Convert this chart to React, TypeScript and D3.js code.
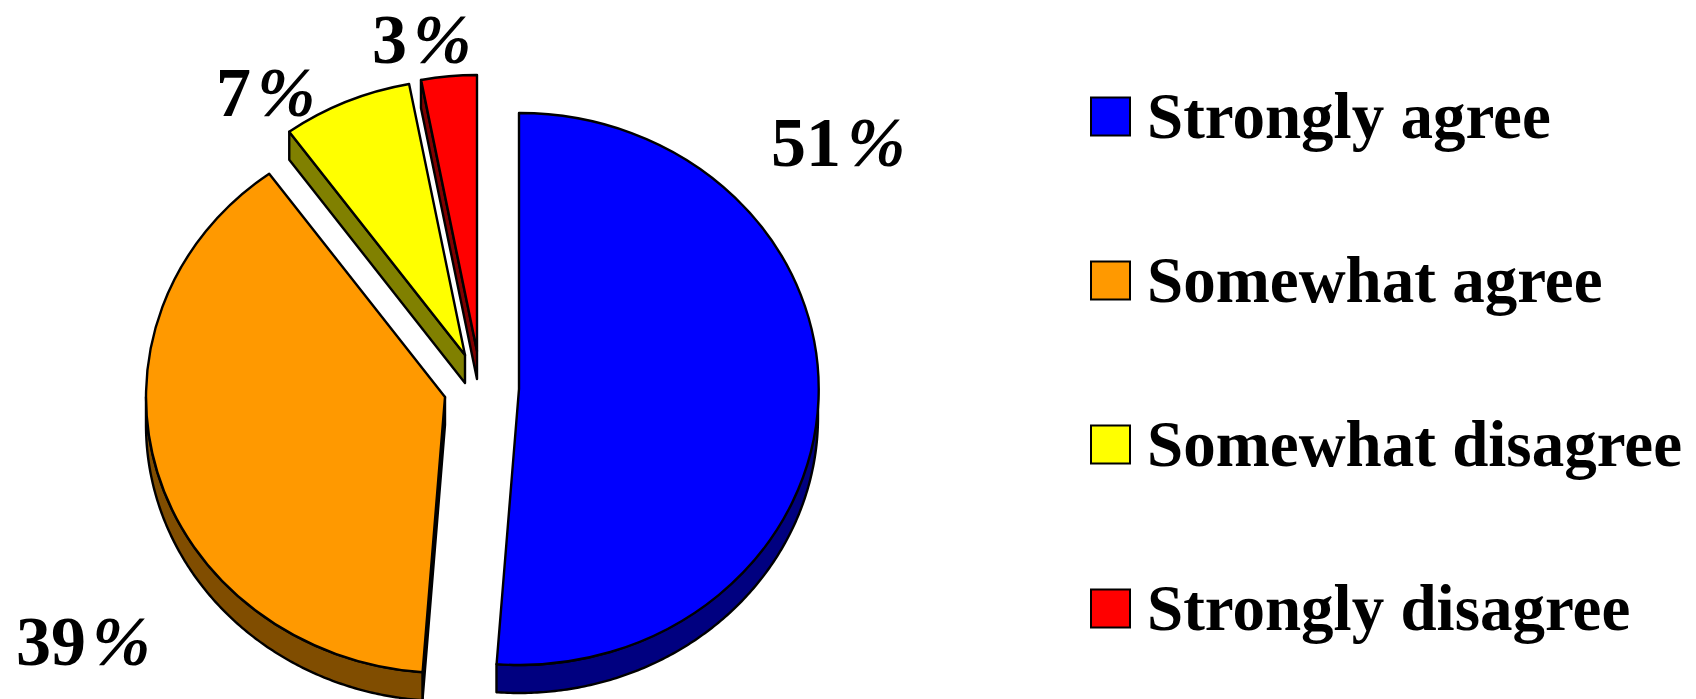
import React from 'react';
import * as d3 from 'd3';

const categories = ['Strongly agree', 'Somewhat agree', 'Somewhat disagree', 'Strongly disagree'];
const shares = [51.2, 38.8, 7, 3];
const shareLabels = ['51', '39', '7', '3'];
const faceColors = ['#0000ff', '#ff9900', '#ffff00', '#ff0000'];
const wallColors = ['#000080', '#804d00', '#808000', '#800000'];

// Layout
const WIDTH = 1696;
const HEIGHT = 699;
const RX = 299;
const RY = 276;
const DEPTH = 28;
const apexes = [[519, 389], [445, 397], [465, 355], [477, 351]];
const labelPos = [[771, 166], [16, 665], [216, 116], [372, 63]];
const FONT = '"Liberation Serif", "Times New Roman", serif';

const pie = d3.pie<number>().sort(null).startAngle(0).endAngle(2 * Math.PI);
const arc = d3.arc<d3.PieArcDatum<number>>().innerRadius(0).outerRadius(1);

// Position on the ellipse, angle clockwise from 12 o'clock
const rimX = (a: number) => RX * Math.sin(a);
const rimY = (a: number) => -RY * Math.cos(a);

const wallArea = d3.area<number>()
  .x(a => rimX(a))
  .y0(a => rimY(a))
  .y1(a => rimY(a) + DEPTH);

const edgePath = (a: number) =>
  d3.line()([
    [0, 0],
    [rimX(a), rimY(a)],
    [rimX(a), rimY(a) + DEPTH],
    [0, DEPTH],
  ]) + 'Z';

const legendY = d3.scalePoint<string>().domain(categories).range([97, 589]);

const App: React.FC = () => {
  const slices = pie(shares);
  const stroke = { stroke: '#000', strokeWidth: 2.4, strokeLinejoin: 'round' as const };

  return (
    <svg
      width={WIDTH}
      height={HEIGHT}
      style={{ position: 'absolute', left: 0, top: 0, display: 'block', background: '#fff' }}
    >
      {/* Draw back to front so the larger slices sit on top */}
      {slices.map((s, i) => {
        const [cx, cy] = apexes[i];
        const from = Math.max(s.startAngle, Math.PI / 2);
        const to = Math.min(s.endAngle, (3 * Math.PI) / 2);
        const angles = from < to ? d3.range(from, to, 0.01).concat(to) : [];
        return (
          <g key={categories[i]} transform={`translate(${cx},${cy})`}>
            {Math.sin(s.startAngle) < -1e-6 && (
              <path d={edgePath(s.startAngle)} fill={wallColors[i]} {...stroke} />
            )}
            {Math.sin(s.endAngle) > 1e-6 && (
              <path d={edgePath(s.endAngle)} fill={wallColors[i]} {...stroke} />
            )}
            {angles.length > 0 && <path d={wallArea(angles) || ''} fill={wallColors[i]} {...stroke} />}
            <path
              d={arc(s) || ''}
              transform={`scale(${RX},${RY})`}
              fill={faceColors[i]}
              vectorEffect="non-scaling-stroke"
              {...stroke}
            />
          </g>
        );
      })}

      {shareLabels.map((v, i) => (
        <text
          key={categories[i]}
          x={labelPos[i][0]}
          y={labelPos[i][1]}
          fontFamily={FONT}
          fontWeight="bold"
          fontSize={70}
        >
          {v}
          <tspan fontStyle="italic" dx={6}>%</tspan>
        </text>
      ))}

      {categories.map((c, i) => (
        <g key={c} transform={`translate(0,${legendY(c)})`}>
          <rect x={1091} y={0.5} width={39} height={38} fill={faceColors[i]} stroke="#000" strokeWidth={2} />
          <text x={1147} y={41} fontFamily={FONT} fontWeight="bold" fontSize={65}>
            {c}
          </text>
        </g>
      ))}
    </svg>
  );
};

export default App;
